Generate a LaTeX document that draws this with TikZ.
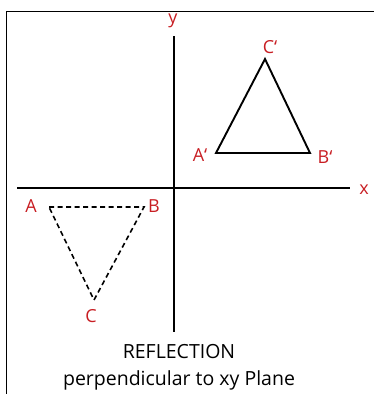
\documentclass[tikz,border=0pt]{standalone}
\usepackage{fontspec}
\setmainfont{Open Sans}
\definecolor{lbl}{RGB}{200,30,35}
\begin{document}
\begin{tikzpicture}[x=1pt,y=-1pt,
  axis/.style={line width=2.9pt},
  tri/.style={line width=1.9pt},
  dtri/.style={line width=1.6pt, dash pattern=on 5pt off 3.5pt},
  lab/.style={text=lbl, font=\fontsize{18}{20}\selectfont, inner sep=0pt},
  captext/.style={font=\fontsize{19.5}{22}\selectfont, inner sep=0pt}]
\useasboundingbox (0,0) rectangle (373,394);
\draw[line width=0.9pt] (6,400) -- (6,11) -- (380,11);
% axes
\coordinate (xl) at (17,188);
\coordinate (xr) at (350,188);
\coordinate (yt) at (174,36);
\coordinate (yb) at (174,332);
\draw[axis] (xl) -- (xr);
\draw[axis] (yt) -- (yb);
\node[lab] (xlab) at (364,190) {x};
\node[lab] (ylab) at (173,20.5) {y};
% reflected triangle
\coordinate (Ap) at (216,153);
\coordinate (Bp) at (310,153);
\coordinate (Cp) at (265,59);
\draw[tri] (Ap) -- (Bp) -- (Cp) -- cycle;
\node[lab] (lAp) at (200,155) {A\symbol{"60}};
\node[lab] (lBp) at (325,157) {B\symbol{"60}};
\node[lab] (lCp) at (270,47) {C\symbol{"60}};
% original triangle
\coordinate (A) at (49,207);
\coordinate (B) at (144,207);
\coordinate (C) at (94,300);
\draw[dtri] (A) -- (B) -- (C) -- cycle;
\node[lab] (lA) at (31,206) {A};
\node[lab] (lB) at (154,206) {B};
\node[lab] (lC) at (91,316) {C};
% caption
\node[captext] (t1) at (179,352) {REFLECTION};
\node[captext] (t2) at (179,380) {perpendicular to xy Plane};
\end{tikzpicture}
\end{document}
